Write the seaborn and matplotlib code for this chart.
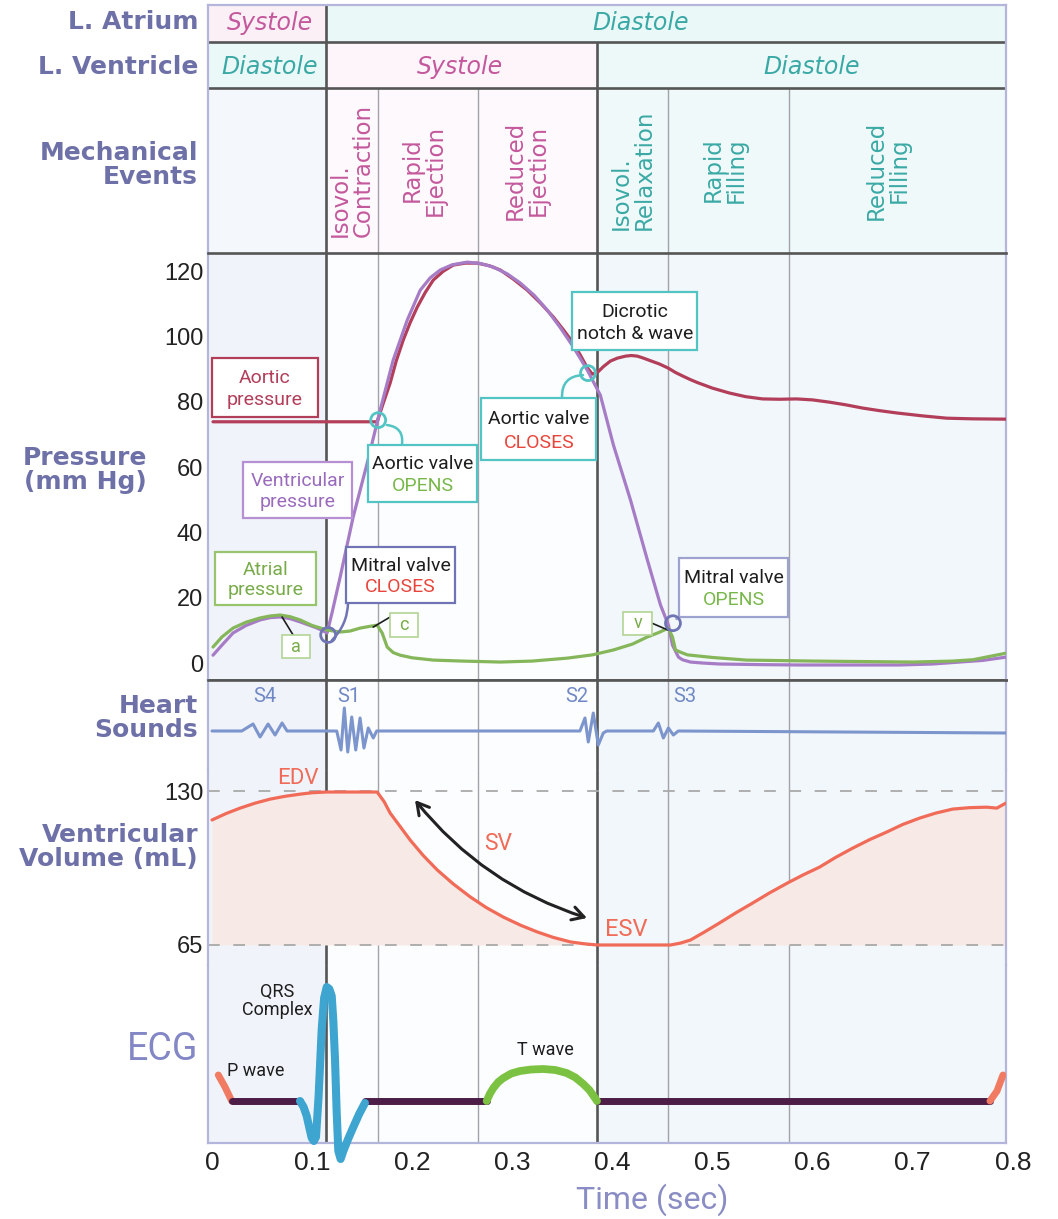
import matplotlib
matplotlib.use("Agg")
import matplotlib.pyplot as plt
import seaborn as sns
from matplotlib import font_manager
from matplotlib.patches import Rectangle

# ---------------------------------------------------------------- data
x_ticks = [0, 0.1, 0.2, 0.3, 0.4, 0.5, 0.6, 0.7, 0.8]
x_tick_labels = ["0", "0.1", "0.2", "0.3", "0.4", "0.5", "0.6", "0.7", "0.8"]
pressure_ticks = [0, 20, 40, 60, 80, 100, 120]
volume_ticks = [65, 130]

major_bounds = [0.114, 0.385]
minor_bounds = [0.166, 0.266, 0.456, 0.576]

atrium_labels = ["Systole", "Diastole"]
atrium_label_t = [0.058, 0.428]
ventricle_labels = ["Diastole", "Systole", "Diastole"]
ventricle_label_t = [0.058, 0.248, 0.599]

mech_events = ["Isovol.\nContraction", "Rapid\nEjection", "Reduced\nEjection",
               "Isovol.\nRelaxation", "Rapid\nFilling", "Reduced\nFilling"]
mech_event_t = [0.140, 0.212, 0.314, 0.420, 0.512, 0.675]
mech_event_phase = ["sys", "sys", "sys", "dia", "dia", "dia"]

aortic_t = [0.001, 0.165, 0.171, 0.178, 0.184, 0.191, 0.198, 0.205, 0.213, 0.221,
            0.231, 0.241, 0.253, 0.265, 0.277, 0.288, 0.301, 0.315, 0.328, 0.341,
            0.351, 0.361, 0.368, 0.375, 0.380, 0.385, 0.391, 0.398, 0.405, 0.413,
            0.419, 0.425, 0.431, 0.438, 0.447, 0.456, 0.463, 0.471, 0.478, 0.485,
            0.500, 0.517, 0.533, 0.550, 0.567, 0.584, 0.600, 0.617, 0.633, 0.650,
            0.667, 0.684, 0.710, 0.734, 0.760, 0.793]
aortic_p = [73.9, 73.9, 79.5, 85.8, 92.5, 98.9, 104.3, 109.0, 113.5, 117.3,
            120.0, 121.9, 122.5, 122.5, 121.7, 120.4, 117.6, 114.2, 110.3, 106.0,
            102.1, 98.0, 94.3, 90.4, 88.5, 89.0, 90.8, 92.5, 93.4, 94.0,
            94.2, 94.0, 93.4, 92.6, 91.6, 90.3, 89.0, 87.8, 86.8, 85.9,
            84.2, 82.7, 81.6, 80.9, 80.8, 80.9, 80.6, 79.9, 79.1, 78.1,
            77.3, 76.6, 75.7, 75.0, 74.8, 74.7]

vent_t = [0.001, 0.010, 0.021, 0.034, 0.048, 0.058, 0.068, 0.078, 0.088, 0.097,
          0.105, 0.110, 0.115, 0.120, 0.128, 0.141, 0.155, 0.168, 0.181, 0.195,
          0.208, 0.218, 0.228, 0.240, 0.255, 0.268, 0.281, 0.295, 0.308, 0.322,
          0.335, 0.348, 0.361, 0.375, 0.388, 0.401, 0.418, 0.435, 0.448, 0.456,
          0.460, 0.466, 0.470, 0.478, 0.490, 0.507, 0.550, 0.587, 0.640, 0.687,
          0.720, 0.747, 0.770, 0.793]
vent_p = [2.4, 5.5, 9.2, 11.5, 13.2, 13.9, 14.1, 13.6, 12.6, 11.6,
          10.7, 10.0, 9.2, 15.5, 26.3, 44.7, 61.2, 77.5, 92.8, 105.0,
          114.2, 118.0, 120.4, 122.0, 122.8, 122.4, 121.3, 119.2, 116.4, 112.6,
          108.1, 102.7, 96.8, 89.7, 82.0, 66.8, 50.0, 31.5, 17.8, 11.6,
          5.5, 1.8, 1.0, 0.3, 0.0, -0.3, -0.5, -0.6, -0.6, -0.6,
          -0.3, 0.3, 0.8, 1.8]

atrial_t = [0.001, 0.010, 0.021, 0.034, 0.048, 0.058, 0.068, 0.078, 0.088, 0.100,
            0.115, 0.128, 0.138, 0.148, 0.157, 0.165, 0.170, 0.175, 0.181, 0.188,
            0.200, 0.221, 0.250, 0.288, 0.320, 0.355, 0.380, 0.401, 0.420, 0.435,
            0.446, 0.456, 0.460, 0.463, 0.469, 0.475, 0.500, 0.534, 0.600, 0.700,
            0.740, 0.760, 0.793]
atrial_p = [4.9, 8.0, 10.7, 12.5, 13.8, 14.4, 14.7, 14.2, 13.2, 11.5,
            10.1, 9.5, 9.8, 10.7, 11.2, 11.6, 9.2, 4.9, 3.2, 2.4,
            1.6, 0.9, 0.6, 0.3, 0.6, 1.5, 2.5, 4.0, 5.8, 8.0,
            9.3, 10.7, 8.0, 4.0, 3.2, 2.5, 1.7, 0.9, 0.6, 0.3,
            0.6, 1.0, 3.0]

valve_t = [0.166, 0.3756, 0.116, 0.4605]
valve_p = [74.4, 88.8, 8.6, 12.2]

heart_t = [0.000, 0.0297, 0.041, 0.048, 0.056, 0.063, 0.070, 0.075,
           0.1246, 0.1289, 0.1322, 0.1356, 0.1396, 0.1436, 0.1479, 0.1518, 0.1561, 0.1611, 0.1645,
           0.3676, 0.3726, 0.3759, 0.3809, 0.3859, 0.3909, 0.3943,
           0.4409, 0.4459, 0.4509, 0.4559, 0.4609, 0.4658, 0.793]
heart_a = [0, 0, 0.7, -0.6, 0.7, -0.4, 0.8, 0,
           0, -1.9, 2.3, -2.1, 1.4, -1.9, 1.3, -1.7, 0.3, -0.7, 0,
           0, 1.3, -1.1, 1.8, -1.4, -0.2, 0,
           0, 0.8, -0.7, 0.3, -0.4, 0, -0.2]
heart_labels = ["S4", "S1", "S2", "S3"]
heart_label_t = [0.053, 0.137, 0.364, 0.472]

vol_t = [0.000, 0.014, 0.028, 0.043, 0.058, 0.073, 0.088, 0.100, 0.114, 0.165,
         0.172, 0.178, 0.188, 0.198, 0.211, 0.225, 0.241, 0.258, 0.274, 0.291,
         0.308, 0.325, 0.341, 0.358, 0.372, 0.385, 0.458, 0.468, 0.478, 0.492,
         0.507, 0.523, 0.540, 0.557, 0.575, 0.591, 0.607, 0.623, 0.640, 0.657,
         0.674, 0.690, 0.707, 0.723, 0.740, 0.757, 0.774, 0.784, 0.793]
vol_v = [117.8, 120.5, 122.8, 124.9, 126.6, 127.8, 128.7, 129.3, 129.6, 129.6,
         125.5, 120.7, 115.0, 109.3, 102.8, 96.7, 90.8, 85.3, 80.8, 76.8,
         73.4, 70.5, 68.2, 66.3, 65.5, 65.0, 65.0, 65.8, 67.1, 70.5,
         74.3, 78.5, 82.7, 87.0, 91.2, 94.7, 97.9, 102.0, 105.9, 109.5,
         112.7, 115.9, 118.6, 120.7, 122.4, 123.0, 123.2, 122.8, 124.9]

ecg_p1_t = [0.0063, 0.013, 0.0197]
ecg_p1_v = [2.6, 1.4, 0.0]
ecg_base1_t = [0.0197, 0.0879]
ecg_base1_v = [0.0, 0.0]
ecg_qrs_t = [0.0879, 0.0915, 0.0946, 0.0975, 0.0996, 0.1018, 0.1039, 0.1065, 0.1096, 0.1120,
             0.1146, 0.1172, 0.1196, 0.1212, 0.1229, 0.1245, 0.1262, 0.1285, 0.1312, 0.1360,
             0.1412, 0.1470, 0.1528]
ecg_qrs_v = [0.0, -0.6, -1.5, -2.8, -3.7, -4.0, -3.6, 0.5, 7.2, 10.3,
             11.4, 11.2, 10.5, 8.0, 4.1, -1.0, -5.0, -5.8, -5.0, -3.8,
             -2.6, -1.3, -0.2]
ecg_base2_t = [0.1528, 0.2744]
ecg_base2_v = [0.0, 0.0]
ecg_twave_t = [0.2744, 0.2775, 0.2811, 0.2860, 0.2911, 0.2990, 0.3077, 0.3190, 0.3310, 0.3430,
               0.3543, 0.3630, 0.3709, 0.3770, 0.3826, 0.3846]
ecg_twave_v = [0.0, 0.7, 1.3, 1.9, 2.3, 2.75, 3.0, 3.15, 3.2, 3.1,
               2.8, 2.35, 1.7, 1.1, 0.3, 0.0]
ecg_base3_t = [0.3846, 0.7772]
ecg_base3_v = [0.0, 0.0]
ecg_p2_t = [0.7772, 0.7842, 0.7902]
ecg_p2_v = [0.0, 1.0, 2.6]

# ---------------------------------------------------------------- style
sns.set_theme(style="white")
names = {f.name for f in font_manager.fontManager.ttflist}


def pick(*cands):
    for c in cands:
        if c in names:
            return c
    return "DejaVu Sans"


ROB = pick("Roboto", "Liberation Sans")
ARIAL = pick("Liberation Sans", "DejaVu Sans")
plt.rcParams["font.family"] = ["DejaVu Sans"]

W, H = 1058, 1219
XL = (-0.004, 0.7932)
LAV = "#b3b5db"
DARK = "#555555"
THIN = "#a2a2aa"
LBL = "#6e70a8"
PINK = "#c4589c"
TEAL = "#3aa9a5"
AORT = "#b23e5a"
VENT = "#a67cc6"
VENT_T = "#9a6bbd"
ATR = "#86b65a"
ATR_T = "#78ac4a"
BOXTEAL = "#52c4c4"
MITRAL = "#6f74b4"
MITRAL2 = "#9ea2cf"
GREEN = "#78b84a"
RED = "#e8463c"
BLACK = "#1e1e1e"
VOLC = "#f06b58"

fig = plt.figure(figsize=(W / 100, H / 100), dpi=100, facecolor="white")


def make_ax(top, bottom):
    ax = fig.add_axes([208 / W, 1 - bottom / H, 798 / W, (bottom - top) / H])
    ax.set_xlim(*XL)
    ax.set_xticks([])
    ax.set_yticks([])
    for s in ax.spines.values():
        s.set_visible(False)
    for s in ("left", "right"):
        ax.spines[s].set_visible(True)
        ax.spines[s].set_color(LAV)
        ax.spines[s].set_linewidth(1.6)
    ax.set_facecolor("none")
    ax.grid(False)
    return ax


def dark_spine(ax, side):
    ax.spines[side].set_visible(True)
    ax.spines[side].set_color(DARK)
    ax.spines[side].set_linewidth(1.9)


def lower_bg(ax):
    ax.axvspan(XL[0], major_bounds[0], color="#f0f4fa", zorder=0, lw=0)
    ax.axvspan(major_bounds[0], major_bounds[1], color="#fcfdfe", zorder=0, lw=0)
    ax.axvspan(major_bounds[1], XL[1], color="#f2f7fb", zorder=0, lw=0)
    for x in minor_bounds:
        ax.axvline(x, color=THIN, lw=1.0, zorder=1)
    for x in major_bounds:
        ax.axvline(x, color=DARK, lw=1.9, zorder=1)


def line(ax, t, v, color, lw, z=3, clip=True):
    sns.lineplot(x=t, y=v, ax=ax, color=color, lw=lw, sort=False, estimator=None,
                 zorder=z, solid_capstyle="round", solid_joinstyle="round", clip_on=clip)
    ax.set_xlabel("")
    ax.set_ylabel("")


# ---------------------------------------------------------------- header
axh = make_ax(5, 253)
axh.set_ylim(253, 5)
axh.spines["top"].set_visible(True)
axh.spines["top"].set_color(LAV)
axh.spines["top"].set_linewidth(1.6)


def cell(t0, t1, y0, y1, c):
    axh.add_patch(Rectangle((t0, y0), t1 - t0, y1 - y0, fc=c, ec="none", zorder=0))


cell(XL[0], 0.114, 5, 42, "#fcf0f7")
cell(0.114, XL[1], 5, 42, "#ebf8f8")
cell(XL[0], 0.114, 42, 88, "#ebf8f8")
cell(0.114, 0.385, 42, 88, "#fdf5fa")
cell(0.385, XL[1], 42, 88, "#edf9f9")
cell(XL[0], 0.114, 88, 253, "#f4f7fc")
cell(0.114, 0.385, 88, 253, "#fdf9fc")
cell(0.385, XL[1], 88, 253, "#eff9f9")

axh.hlines([42], XL[0], XL[1], color=DARK, lw=1.9, zorder=2)
axh.hlines([88], XL[0], XL[1], color=DARK, lw=1.9, zorder=2)
axh.vlines([major_bounds[0]], 5, 253, color=DARK, lw=1.9, zorder=2)
axh.vlines([major_bounds[1]], 42, 253, color=DARK, lw=1.9, zorder=2)
axh.vlines(minor_bounds, 88, 253, color=THIN, lw=1.0, zorder=1)

for s, t in zip(atrium_labels, atrium_label_t):
    axh.text(t, 23, s, ha="center", va="center", fontsize=17, style="italic",
             color=PINK if s == "Systole" else TEAL)
for s, t in zip(ventricle_labels, ventricle_label_t):
    axh.text(t, 67, s, ha="center", va="center", fontsize=17, style="italic",
             color=PINK if s == "Systole" else TEAL)
for s, t, ph in zip(mech_events, mech_event_t, mech_event_phase):
    axh.text(t, 170, s, rotation=90, ha="center", va="center", fontsize=16.5,
             linespacing=1.0, multialignment="left" if s.startswith("Isovol") else "center",
             color=PINK if ph == "sys" else TEAL)

# ---------------------------------------------------------------- pressure
axp = make_ax(253, 680)
lower_bg(axp)
dark_spine(axp, "top")
dark_spine(axp, "bottom")

line(axp, aortic_t, aortic_p, AORT, 2.3)
line(axp, vent_t, vent_p, VENT, 2.3)
line(axp, atrial_t, atrial_p, ATR, 2.3)
axp.set_ylim(-5.2, 125.6)
axp.set_xlim(*XL)
axp.set_yticks(pressure_ticks)
axp.set_yticklabels([str(v) for v in pressure_ticks], fontsize=17, family=ARIAL, color="#222222")
axp.tick_params(axis="y", length=0, pad=3.5)


def box(ax, t0, t1, y0, y1, ec, lines, size=14, lw=1.6):
    ax.add_patch(Rectangle((t0, y0), t1 - t0, y1 - y0, fc="white", ec=ec, lw=lw, zorder=6))
    tm = (t0 + t1) / 2
    h = y1 - y0
    if len(lines) == 1:
        ax.text(tm, (y0 + y1) / 2, lines[0][0], color=lines[0][1], ha="center", va="center",
                fontsize=size, family=ROB, zorder=7)
    else:
        for frac, (s, c) in zip([0.34, 0.72], lines):
            ax.text(tm, y1 - frac * h, s, color=c, ha="center", va="center",
                    fontsize=size, family=ROB, zorder=7)


def connector(ax, a, b, color, rad, lw=1.8):
    ax.annotate("", xy=b, xytext=a, zorder=5,
                arrowprops=dict(arrowstyle="-", color=color, lw=lw, shrinkA=0, shrinkB=0,
                                connectionstyle=f"arc3,rad={rad}"))


connector(axp, (0.1748, 72.9), (0.1898, 67.0), BOXTEAL, -0.5)
connector(axp, (0.3497, 81.2), (0.3706, 88.2), BOXTEAL, -0.5)
connector(axp, (0.1199, 7.0), (0.1359, 18.5), MITRAL, 0.2)
connector(axp, (0.4640, 13.5), (0.4680, 14.2), MITRAL2, 0.0)
connector(axp, (0.070, 14.1), (0.081, 8.6), BLACK, 0.0, lw=1.2)
connector(axp, (0.161, 11.0), (0.178, 14.1), BLACK, 0.0, lw=1.2)
connector(axp, (0.4396, 12.2), (0.4555, 10.1), BLACK, 0.0, lw=1.2)

box(axp, 0.000, 0.106, 75.5, 93.3, AORT, [("Aortic", AORT), ("pressure", AORT)])
box(axp, 0.031, 0.140, 44.4, 61.6, "#b690d2", [("Ventricular", VENT_T), ("pressure", VENT_T)])
box(axp, 0.003, 0.104, 17.8, 34.1, "#98c46e", [("Atrial", ATR_T), ("pressure", ATR_T)])
box(axp, 0.156, 0.265, 49.3, 66.8, BOXTEAL, [("Aortic valve", BLACK), ("OPENS", GREEN)])
box(axp, 0.134, 0.243, 18.3, 35.6, MITRAL, [("Mitral valve", BLACK), ("CLOSES", RED)])
box(axp, 0.269, 0.384, 62.2, 81.2, BOXTEAL, [("Aortic valve", BLACK), ("CLOSES", RED)])
box(axp, 0.360, 0.485, 95.9, 113.7, BOXTEAL, [("Dicrotic", BLACK), ("notch & wave", BLACK)])
box(axp, 0.467, 0.575, 14.1, 32.2, MITRAL2, [("Mitral valve", BLACK), ("OPENS", GREEN)])
box(axp, 0.070, 0.098, 1.5, 8.6, "#b3d494", [("a", ATR_T)], size=13, lw=1.2)
box(axp, 0.178, 0.206, 8.0, 15.3, "#b3d494", [("c", ATR_T)], size=13, lw=1.2)
box(axp, 0.411, 0.440, 8.6, 15.7, "#b3d494", [("v", ATR_T)], size=13, lw=1.2)

axp.scatter(valve_t, valve_p, s=115, facecolors="none",
            edgecolors=[BOXTEAL, BOXTEAL, MITRAL, MITRAL], linewidths=2.0, zorder=8)

# ---------------------------------------------------------------- heart sounds
axs = make_ax(680, 770)
lower_bg(axs)
dark_spine(axs, "top")
line(axs, heart_t, heart_a, "#7c95cc", 2.2)
axs.set_ylim(-3.9, 5.1)
axs.set_xlim(*XL)
axs.set_yticks([])
for s, t in zip(heart_labels, heart_label_t):
    axs.text(t, 3.4, s, ha="center", va="center", fontsize=14.5, family=ROB, color="#7088c6")

# ---------------------------------------------------------------- volume
axv = make_ax(770, 965)
lower_bg(axv)
axv.fill_between(vol_t, vol_v, 65, color="#f7e9e6", lw=0, zorder=1.5)
axv.axhline(130, color="#a9a9a9", lw=1.3, ls=(0, (6.5, 7.5)), zorder=2)
axv.axhline(65, color="#a9a9a9", lw=1.3, ls=(0, (6.5, 7.5)), zorder=2)
line(axv, vol_t, vol_v, VOLC, 2.3)
axv.set_ylim(56.55, 138.9)
axv.set_xlim(*XL)
axv.set_yticks(volume_ticks)
axv.set_yticklabels([str(v) for v in volume_ticks], fontsize=17, family=ARIAL, color="#222222")
axv.tick_params(axis="y", length=0, pad=3.5)
axv.text(0.086, 135.1, "EDV", color=VOLC, fontsize=16, family=ROB, ha="center", va="center")
axv.text(0.286, 108.0, "SV", color=VOLC, fontsize=16.5, family=ROB, ha="center", va="center")
axv.text(0.4134, 71.7, "ESV", color=VOLC, fontsize=17, family=ROB, ha="center", va="center")
axv.annotate("", xy=(0.3746, 76.4), xytext=(0.2028, 126.2), zorder=6,
             arrowprops=dict(arrowstyle="<->,head_length=0.7,head_width=0.4", color="#222222",
                             lw=2.2, shrinkA=0, shrinkB=0, connectionstyle="arc3,rad=0.15"))

# ---------------------------------------------------------------- ECG
axe = make_ax(965, 1143)
lower_bg(axe)
axe.spines["bottom"].set_visible(True)
axe.spines["bottom"].set_color(LAV)
axe.spines["bottom"].set_linewidth(1.6)
ECG_BASE = "#4b1d47"
line(axe, ecg_p1_t, ecg_p1_v, "#f07a62", 5.0)
line(axe, ecg_base1_t, ecg_base1_v, ECG_BASE, 5.0)
line(axe, ecg_base2_t, ecg_base2_v, ECG_BASE, 5.0)
line(axe, ecg_base3_t, ecg_base3_v, ECG_BASE, 5.0)
line(axe, ecg_twave_t, ecg_twave_v, "#7cc242", 5.6)
line(axe, ecg_p2_t, ecg_p2_v, "#f07a62", 5.0)
line(axe, ecg_qrs_t, ecg_qrs_v, "#3ea4d0", 5.8, z=4, clip=False)
axe.set_ylim(-4.2, 13.6)
axe.set_xlim(*XL)
axe.set_xticks([])
axe.set_yticks([])
axe.text(0.065, 10.0, "QRS\nComplex", ha="center", va="center", fontsize=13, family=ROB,
         color=BLACK, linespacing=1.05)
axe.text(0.044, 3.0, "P wave", ha="center", va="center", fontsize=13, family=ROB, color=BLACK)
axe.text(0.3327, 5.1, "T wave", ha="center", va="center", fontsize=13, family=ROB, color=BLACK)

# time axis (ticks extend slightly past the right frame, as in the original)
x_end = x_ticks[-1]
axt = fig.add_axes([208 / W, 1 - 1143 / H, (x_end - XL[0]) * 1001 / W, 0.001])
axt.set_facecolor("none")
for s in axt.spines.values():
    s.set_visible(False)
axt.set_xlim(XL[0], x_end)
axt.set_yticks([])
axt.set_xticks(x_ticks)
axt.set_xticklabels(x_tick_labels, fontsize=19, family=ARIAL, color="#222222")
axt.tick_params(axis="x", length=0, pad=6)
axt.grid(False)

# ---------------------------------------------------------------- left labels
def left_label(y_px, s, x_px=198, **kw):
    opts = dict(ha="right", va="center", fontsize=18, fontweight="bold", color=LBL,
                multialignment="right", linespacing=1.0)
    opts.update(kw)
    fig.text(x_px / W, 1 - y_px / H, s, **opts)


left_label(22, "L. Atrium")
left_label(67, "L. Ventricle")
left_label(165, "Mechanical\nEvents")
left_label(470, "Pressure\n(mm Hg)", x_px=147)
left_label(718, "Heart\nSounds")
left_label(847, "Ventricular\nVolume (mL)")
left_label(1050, "ECG", fontsize=27, fontweight="normal", family=ROB, color="#8487c6")
fig.text(652 / W, 1 - 1200 / H, "Time (sec)", ha="center", va="center", fontsize=23,
         family=ROB, color="#8a8cc4")

fig.savefig("out.png", dpi=100, facecolor="white")
